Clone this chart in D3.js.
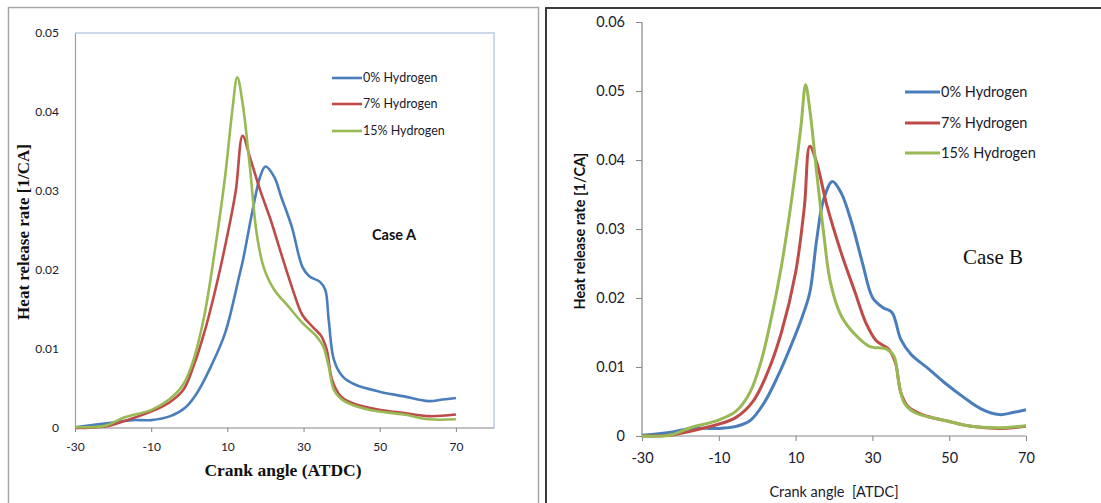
<!DOCTYPE html>
<html><head><meta charset="utf-8">
<script src="https://cdn.jsdelivr.net/npm/d3@7/dist/d3.min.js"></script>
<style>body{margin:0;background:#fff;}svg{display:block;}</style>
</head><body>
<svg id="c" width="1101" height="503"></svg>
<script>
// ---------- DATA ----------
const seriesNames = ["0% Hydrogen", "7% Hydrogen", "15% Hydrogen"];
const seriesColors = ["#4a7ebb", "#be4b48", "#98b954"];
const xTicks = [-30, -10, 10, 30, 50, 70];
const yTicksA = [0, 0.01, 0.02, 0.03, 0.04, 0.05];
const yTicksB = [0, 0.01, 0.02, 0.03, 0.04, 0.05, 0.06];

// Case A  [crank angle, heat release rate]
const caseA_h0 = [[-30,0.0001],[-20,0.0007],[-15,0.001],[-10,0.001],[-5,0.0015],[-1,0.0026],[2,0.0044],[5.7,0.0078],[9.4,0.012],[13.1,0.0192],[14.2,0.0215],[16.8,0.028],[18.6,0.0318],[20,0.0331],[22.3,0.0318],[24.1,0.0293],[26.9,0.0255],[29.7,0.0204],[31.5,0.0192],[34.3,0.0185],[35.7,0.0175],[36.6,0.0137],[38,0.0086],[40.3,0.0065],[43.5,0.0055],[49.9,0.0046],[56.4,0.004],[62.8,0.0034],[66.5,0.0036],[70,0.0038]];
const caseA_h7 = [[-30,0],[-21.9,0.0002],[-18.2,0.0007],[-9.9,0.0021],[-5.3,0.0032],[-1.6,0.0048],[1.1,0.0078],[3.9,0.012],[6.6,0.017],[9.4,0.023],[12.2,0.030],[14,0.037],[15.9,0.0343],[18.6,0.0301],[21.4,0.0263],[24.1,0.0221],[26.9,0.0179],[29.7,0.0143],[32.4,0.0128],[34.7,0.0116],[36.1,0.0099],[37.5,0.0061],[39.8,0.004],[42.6,0.0032],[49.9,0.0023],[56.4,0.0019],[62.8,0.0015],[70,0.0017]];
const caseA_h15 = [[-30,0.0001],[-21.9,0.0003],[-17.3,0.0013],[-9.9,0.0023],[-5.3,0.0036],[-1.6,0.0055],[1.1,0.0086],[3.9,0.0141],[6.6,0.0221],[9.4,0.0318],[11.3,0.0402],[12.6,0.0444],[14,0.0411],[15.9,0.0331],[17.7,0.0246],[19.5,0.0204],[22.3,0.0175],[26,0.0154],[29.7,0.0133],[33.4,0.0116],[35.2,0.0103],[36.6,0.0078],[38,0.0048],[40.7,0.0034],[47.2,0.0023],[56.4,0.0017],[62.8,0.0011],[70,0.0011]];

// Case B
const caseB_h0 = [[-30,0.0001],[-22,0.0006],[-17.4,0.0011],[-10.1,0.0011],[-5.5,0.0014],[-1.9,0.0022],[1.8,0.0048],[5.4,0.0087],[9.1,0.0135],[11.8,0.0174],[13.7,0.0208],[15.5,0.0285],[17.3,0.0343],[19.6,0.0369],[21.9,0.0352],[24.6,0.0309],[27.4,0.0251],[30.1,0.02],[32.8,0.0186],[35.1,0.0179],[37.4,0.014],[40.1,0.0118],[44.7,0.0097],[49.3,0.0075],[53.8,0.0056],[58.4,0.0039],[63,0.0031],[66.6,0.0034],[70,0.0038]];
const caseB_h7 = [[-30,0],[-22.9,0.0001],[-17.4,0.0007],[-10.1,0.0017],[-5.5,0.0027],[-1,0.0051],[2.7,0.0092],[6.3,0.015],[10,0.0237],[12.3,0.0333],[13.7,0.042],[15.5,0.0396],[18.2,0.0333],[21.9,0.0265],[25.5,0.0208],[28.3,0.0164],[31,0.0138],[34.2,0.0126],[36,0.0106],[37.4,0.0063],[39.2,0.0043],[42.9,0.0031],[49.3,0.0022],[55.7,0.0014],[63,0.0011],[70,0.0014]];
const caseB_h15 = [[-30,0],[-22.9,0.0001],[-17.4,0.0012],[-10.1,0.0023],[-5.5,0.0036],[-1.9,0.0063],[0.9,0.0106],[3.6,0.0169],[6.3,0.0246],[9.1,0.0348],[11.4,0.0449],[12.6,0.0509],[13.7,0.0473],[15.5,0.0381],[17.3,0.0294],[19.1,0.0222],[21.9,0.0174],[25.5,0.0147],[29.2,0.013],[33.7,0.0126],[35.6,0.0116],[36.9,0.0077],[38.3,0.0048],[41,0.0034],[49.3,0.0022],[55.7,0.0014],[63,0.0012],[70,0.0015]];

const svg = d3.select("#c");
const sans = "Lato, 'Open Sans', sans-serif";
const serif = "'Liberation Serif', 'Times New Roman', serif";
const fmtX = d => String(d);
const fmtY = d => d === 0 ? "0" : d.toFixed(2);

// ---------- frames ----------
svg.append("rect").attr("x", 8.5).attr("y", 7.5).attr("width", 530).attr("height", 520)
  .attr("fill", "none").attr("stroke", "#a6a6a6").attr("stroke-width", 1.5);
svg.append("path").attr("d", "M546,520 L546,8 L1101,8")
  .attr("fill", "none").attr("stroke", "#3a3a3a").attr("stroke-width", 2);

function line(x, y) {
  return d3.line().x(d => x(d[0])).y(d => y(d[1])).curve(d3.curveCatmullRom.alpha(0.5));
}

// ---------- Panel A ----------
{
  const x = d3.scaleLinear().domain([-30, 80]).range([75, 494]);
  const y = d3.scaleLinear().domain([0, 0.05]).range([428, 33]);
  const g = svg.append("g");
  g.append("path").attr("d", `M${x(-30)},${y(0.05)} L${x(80)},${y(0.05)} L${x(80)},${y(0)}`)
    .attr("fill", "none").attr("stroke", "#b9cde5").attr("stroke-width", 1.5);
  const ya = g.append("g").attr("transform", `translate(${x(-30)},0)`)
    .call(d3.axisLeft(y).tickValues(yTicksA).tickSize(0).tickPadding(16).tickFormat(fmtY));
  ya.select(".domain").attr("stroke", "#a0a0a0").attr("stroke-width", 1.2);
  ya.selectAll("text").attr("font-family", sans).attr("font-size", 12).attr("fill", "#1a1a2e");
  const xa = g.append("g").attr("transform", `translate(0,${y(0)})`)
    .call(d3.axisBottom(x).tickValues(xTicks).tickSize(4).tickPadding(10).tickFormat(fmtX));
  xa.select(".domain").attr("stroke", "#868686").attr("stroke-width", 1.2).attr("d", `M${x(-30)},0H${x(80)}`);
  xa.selectAll("line").attr("stroke", "#868686");
  xa.selectAll("text").attr("font-family", sans).attr("font-size", 12).attr("fill", "#1a1a2e");
  [caseA_h0, caseA_h7, caseA_h15].forEach((s, i) => {
    g.append("path").datum(s).attr("d", line(x, y)).attr("fill", "none")
      .attr("stroke", seriesColors[i]).attr("stroke-width", 2.6).attr("stroke-linejoin", "round");
  });
  const ly = [78, 104, 131];
  seriesNames.forEach((n, i) => {
    g.append("line").attr("x1", 332).attr("x2", 362).attr("y1", ly[i]).attr("y2", ly[i])
      .attr("stroke", seriesColors[i]).attr("stroke-width", 2.6);
    g.append("text").attr("x", 363).attr("y", ly[i]).attr("dy", "0.35em")
      .attr("font-family", sans).attr("font-size", 12.5).attr("fill", "#1a1a2e").text(n);
  });
  g.append("text").attr("x", 372).attr("y", 235).attr("dy", "0.35em")
    .attr("font-family", sans).attr("font-weight", "bold").attr("font-size", 14.5).attr("fill", "#111").text("Case A");
  g.append("text").attr("x", 283).attr("y", 470).attr("dy", "0.35em").attr("text-anchor", "middle")
    .attr("font-family", serif).attr("font-weight", "bold").attr("font-size", 17.5).attr("fill", "#111")
    .text("Crank angle (ATDC)");
  g.append("text").attr("transform", "translate(23,232) rotate(-90)").attr("dy", "0.35em")
    .attr("text-anchor", "middle").attr("font-family", serif).attr("font-weight", "bold")
    .attr("font-size", 17).attr("fill", "#111").text("Heat release rate [1/CA]");
}

// ---------- Panel B ----------
{
  const x = d3.scaleLinear().domain([-30, 70]).range([642, 1026]);
  const y = d3.scaleLinear().domain([0, 0.06]).range([436, 22]);
  const g = svg.append("g");
  const ya = g.append("g").attr("transform", `translate(${x(-30)},0)`)
    .call(d3.axisLeft(y).tickValues(yTicksB).tickSize(6).tickPadding(11).tickFormat(fmtY));
  ya.select(".domain").attr("stroke", "#868686").attr("stroke-width", 1.2).attr("d", `M0,${y(0.06)}V${y(0)}`);
  ya.selectAll("line").attr("stroke", "#868686");
  ya.selectAll("text").attr("font-family", sans).attr("font-size", 14.5).attr("fill", "#1a1a2e");
  const xa = g.append("g").attr("transform", `translate(0,${y(0)})`)
    .call(d3.axisBottom(x).tickValues(xTicks).tickSize(5).tickPadding(12).tickFormat(fmtX));
  xa.select(".domain").attr("stroke", "#868686").attr("stroke-width", 1.2).attr("d", `M${x(-30)},0H${x(70)}`);
  xa.selectAll("line").attr("stroke", "#868686");
  xa.selectAll("text").attr("font-family", sans).attr("font-size", 14.5).attr("fill", "#1a1a2e");
  [caseB_h0, caseB_h7, caseB_h15].forEach((s, i) => {
    g.append("path").datum(s).attr("d", line(x, y)).attr("fill", "none")
      .attr("stroke", seriesColors[i]).attr("stroke-width", 3).attr("stroke-linejoin", "round");
  });
  const ly = [92, 123, 153];
  seriesNames.forEach((n, i) => {
    g.append("line").attr("x1", 905).attr("x2", 940).attr("y1", ly[i]).attr("y2", ly[i])
      .attr("stroke", seriesColors[i]).attr("stroke-width", 3);
    g.append("text").attr("x", 941).attr("y", ly[i]).attr("dy", "0.35em")
      .attr("font-family", sans).attr("font-size", 14.5).attr("fill", "#1a1a2e").text(n);
  });
  g.append("text").attr("x", 963).attr("y", 257).attr("dy", "0.35em")
    .attr("font-family", serif).attr("font-size", 21).attr("fill", "#111").text("Case B");
  g.append("text").attr("x", 834).attr("y", 492).attr("dy", "0.35em").attr("text-anchor", "middle")
    .attr("font-family", sans).attr("font-size", 14.5).attr("fill", "#1a1a2e")
    .style("white-space", "pre").text("Crank angle  [ATDC]");
  g.append("text").attr("transform", "translate(580,231) rotate(-90)").attr("dy", "0.35em")
    .attr("text-anchor", "middle").attr("font-family", sans).attr("font-weight", "bold")
    .attr("font-size", 14.5).attr("fill", "#111").text("Heat release rate [1/CA]");
}
</script>
</body></html>
